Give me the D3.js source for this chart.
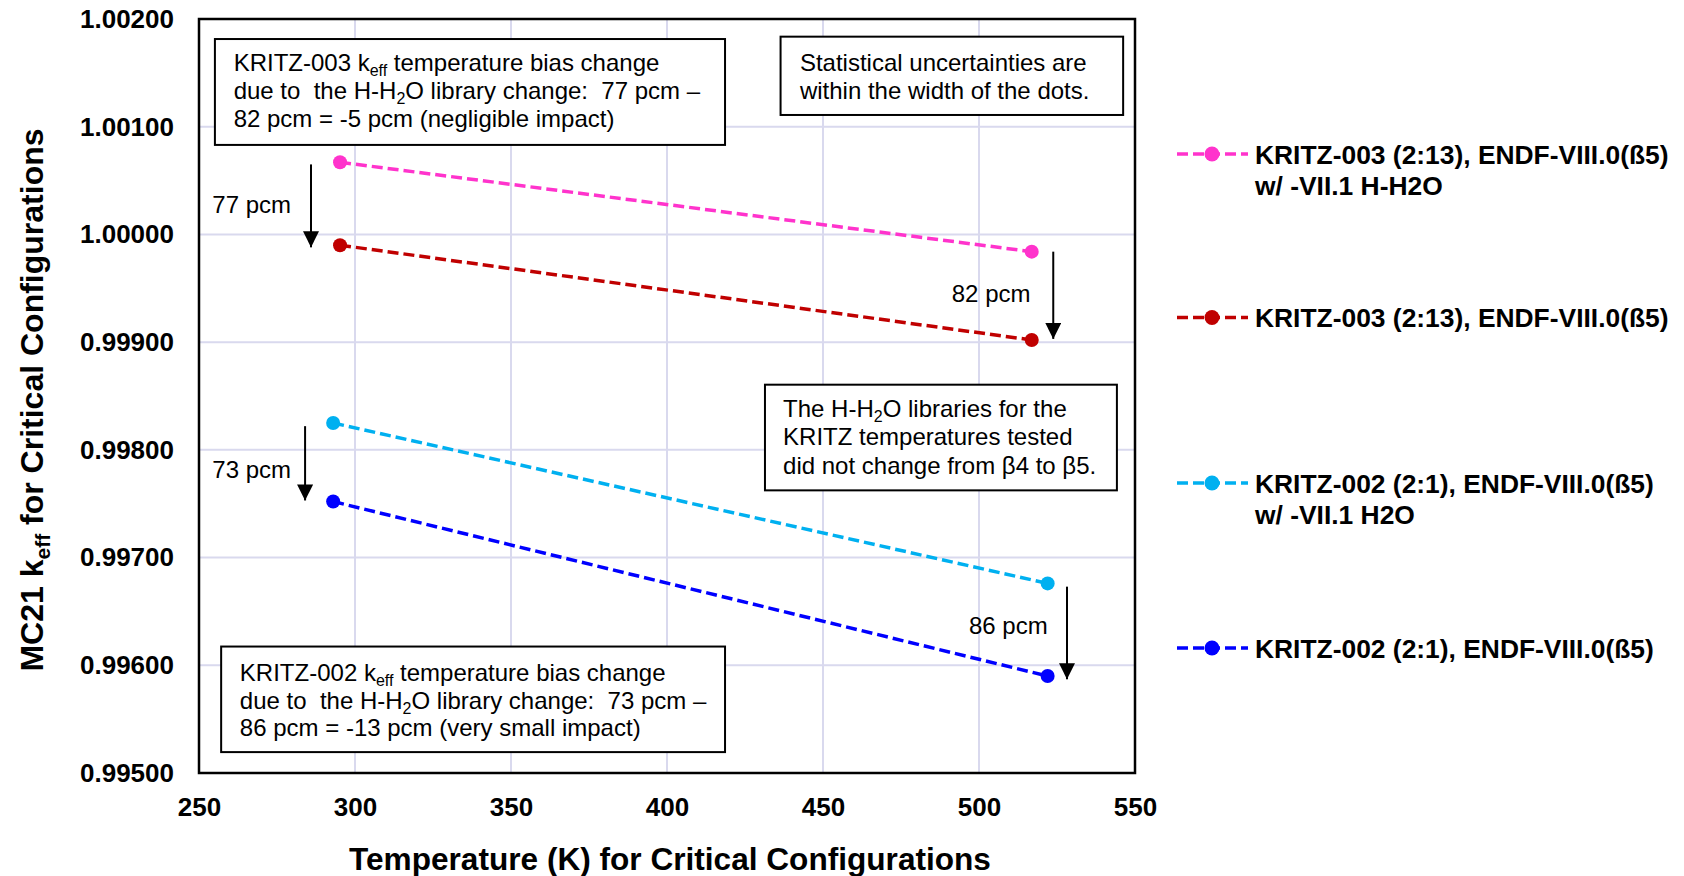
<!DOCTYPE html>
<html>
<head>
<meta charset="utf-8">
<script src="https://cdn.jsdelivr.net/npm/d3@7"></script>
<style>
  html, body { margin: 0; padding: 0; background: #fff; }
  svg { display: block; font-family: Arial, "Liberation Sans", sans-serif; }
</style>
</head>
<body>
<svg id="chart" width="1684" height="876"></svg>
<script>
// ---------------- DATA ----------------
const xTicks = [250, 300, 350, 400, 450, 500, 550];
const yTicks = [0.995, 0.996, 0.997, 0.998, 0.999, 1.000, 1.001, 1.002];

const seriesNames = [
  ["KRITZ-003 (2:13), ENDF-VIII.0(ß5)", "w/ -VII.1 H-H2O"],
  ["KRITZ-003 (2:13), ENDF-VIII.0(ß5)"],
  ["KRITZ-002 (2:1), ENDF-VIII.0(ß5)", "w/ -VII.1 H2O"],
  ["KRITZ-002 (2:1), ENDF-VIII.0(ß5)"]
];
const seriesColors = ["#FF33CC", "#C00000", "#00B0F0", "#0000FF"];

const kritz003Temps = [295.2, 516.9];
const kritz002Temps = [293.0, 522.0];
const k003VII1 = [1.00067, 0.99984];
const k003VIII = [0.99990, 0.99902];
const k002VII1 = [0.99825, 0.99676];
const k002VIII = [0.99752, 0.99590];

// arrows: [temperature, kFrom, kTo]
const arrowT = [285.9, 523.8, 284.0, 528.2];
const arrowFrom = [1.00065, 0.99984, 0.99822, 0.99673];
const arrowTo = [0.99988, 0.99903, 0.99753, 0.99587];
const arrowLabels = ["77 pcm", "82 pcm", "73 pcm", "86 pcm"];
const arrowLabelT = [279.5, 516.5, 279.5, 522.0];
const arrowLabelK = [1.00020, 0.99937, 0.99774, 0.99629];

// ---------------- LAYOUT ----------------
const svg = d3.select("#chart");
const L = 199, R = 1135, T = 19, B = 773;
const NOTE_FS = 24;

const x = d3.scaleLinear().domain([250, 550]).range([L, R]);
const y = d3.scaleLinear().domain([0.995, 1.002]).range([B, T]);

const series = [
  { name: seriesNames[0], color: seriesColors[0], t: kritz003Temps, k: k003VII1 },
  { name: seriesNames[1], color: seriesColors[1], t: kritz003Temps, k: k003VIII },
  { name: seriesNames[2], color: seriesColors[2], t: kritz002Temps, k: k002VII1 },
  { name: seriesNames[3], color: seriesColors[3], t: kritz002Temps, k: k002VIII }
];

// gridlines
const grid = svg.append("g").attr("stroke", "#D9D9EE").attr("stroke-width", 2);
grid.selectAll("line.v").data(xTicks.slice(1, -1)).join("line")
  .attr("class", "v")
  .attr("x1", d => x(d)).attr("x2", d => x(d)).attr("y1", T).attr("y2", B);
grid.selectAll("line.h").data(yTicks.slice(1, -1)).join("line")
  .attr("class", "h")
  .attr("x1", L).attr("x2", R).attr("y1", d => y(d)).attr("y2", d => y(d));

// axes (labels via d3 axes, domain hidden, border drawn as rect)
const xAxis = d3.axisBottom(x).tickValues(xTicks).tickSize(0).tickPadding(25).tickFormat(d3.format("d"));
const gx = svg.append("g").attr("transform", `translate(0,${B})`).call(xAxis);
gx.select(".domain").remove();
gx.selectAll("text").attr("font-size", 26).attr("font-weight", "bold").attr("fill", "#000")
  .attr("font-family", "Arial, 'Liberation Sans', sans-serif");

const yAxis = d3.axisLeft(y).tickValues(yTicks).tickSize(0).tickPadding(25).tickFormat(d3.format(".5f"));
const gy = svg.append("g").attr("transform", `translate(${L},0)`).call(yAxis);
gy.select(".domain").remove();
gy.selectAll("text").attr("font-size", 26).attr("font-weight", "bold").attr("fill", "#000")
  .attr("font-family", "Arial, 'Liberation Sans', sans-serif");

// plot border
svg.append("rect").attr("x", L).attr("y", T).attr("width", R - L).attr("height", B - T)
  .attr("fill", "none").attr("stroke", "#000").attr("stroke-width", 2.5);

// axis titles
svg.append("text").attr("x", (L + R) / 2 + 3).attr("y", 870).attr("text-anchor", "middle")
  .attr("font-size", 31.6).attr("font-weight", "bold").text("Temperature (K) for Critical Configurations");

const yt = svg.append("text").attr("transform", `translate(43,${(T + B) / 2 + 4}) rotate(-90)`)
  .attr("text-anchor", "middle").attr("font-size", 32).attr("font-weight", "bold");
yt.append("tspan").text("MC21 k");
yt.append("tspan").attr("font-size", 21).attr("dy", 7).text("eff");
yt.append("tspan").attr("dy", -7).text(" for Critical Configurations");

// series lines + points
const line = d3.line().x(d => x(d[0])).y(d => y(d[1]));
series.forEach(s => {
  const pts = s.t.map((t, i) => [t, s.k[i]]);
  svg.append("path").datum(pts).attr("d", line).attr("fill", "none")
    .attr("stroke", s.color).attr("stroke-width", 3.5).attr("stroke-dasharray", "11,5");
  svg.selectAll(null).data(pts).join("circle")
    .attr("cx", d => x(d[0])).attr("cy", d => y(d[1])).attr("r", 7).attr("fill", s.color);
});

// arrows
const defs = svg.append("defs");
defs.append("marker").attr("id", "ah").attr("viewBox", "0 0 16 16").attr("refX", 16).attr("refY", 8)
  .attr("markerWidth", 16).attr("markerHeight", 16).attr("markerUnits", "userSpaceOnUse").attr("orient", "auto")
  .append("path").attr("d", "M0,0 L16,8 L0,16 Z").attr("fill", "#000");

arrowT.forEach((t, i) => {
  svg.append("line").attr("x1", x(t)).attr("x2", x(t)).attr("y1", y(arrowFrom[i])).attr("y2", y(arrowTo[i]))
    .attr("stroke", "#000").attr("stroke-width", 2).attr("marker-end", "url(#ah)");
  svg.append("text").attr("x", x(arrowLabelT[i])).attr("y", y(arrowLabelK[i])).attr("text-anchor", "end")
    .attr("font-size", NOTE_FS).attr("fill", "#000").text(arrowLabels[i]);
});

// text boxes (corners in data coordinates; line baselines as offsets from box top)
const boxes = [
  { x0: 255.1, x1: 418.6, y0: 1.001814, y1: 1.000831, tx: 261.1, lines: [
      [["KRITZ-003 k", "n"], ["eff", "sub"], [" temperature bias change", "n"]],
      [["due to  the H-H", "n"], ["2", "sub"], ["O library change:  77 pcm \u2013", "n"]],
      [["82 pcm = -5 pcm (negligible impact)", "n"]]
    ], off: [31.7, 60, 88] },
  { x0: 436.4, x1: 546.2, y0: 1.001836, y1: 1.001109, tx: 442.6, lines: [
      [["Statistical uncertainties are", "n"]],
      [["within the width of the dots.", "n"]]
    ], off: [34.3, 62.3] },
  { x0: 431.4, x1: 544.2, y0: 0.998605, y1: 0.997624, tx: 437.2, lines: [
      [["The H-H", "n"], ["2", "sub"], ["O libraries for the", "n"]],
      [["KRITZ temperatures tested", "n"]],
      [["did not change from \u03B24 to \u03B25.", "n"]]
    ], off: [32.3, 60.7, 89] },
  { x0: 257.1, x1: 418.6, y0: 0.996174, y1: 0.995194, tx: 263.1, lines: [
      [["KRITZ-002 k", "n"], ["eff", "sub"], [" temperature bias change", "n"]],
      [["due to  the H-H", "n"], ["2", "sub"], ["O library change:  73 pcm \u2013", "n"]],
      [["86 pcm = -13 pcm (very small impact)", "n"]]
    ], off: [34, 62, 89.7] }
];

boxes.forEach(b => {
  svg.append("rect").attr("x", x(b.x0)).attr("y", y(b.y0))
    .attr("width", x(b.x1) - x(b.x0)).attr("height", y(b.y1) - y(b.y0))
    .attr("fill", "#fff").attr("stroke", "#000").attr("stroke-width", 2);
  b.lines.forEach((ln, li) => {
    const t = svg.append("text").attr("x", x(b.tx)).attr("y", y(b.y0) + b.off[li])
      .attr("font-size", NOTE_FS).attr("fill", "#000").attr("xml:space", "preserve")
      .style("white-space", "pre");
    let shift = 0;
    ln.forEach(([s, kind]) => {
      if (kind === "sub") {
        t.append("tspan").attr("font-size", 16).attr("dy", 5 - shift).text(s);
        shift = 5;
      } else {
        t.append("tspan").attr("dy", -shift).text(s);
        shift = 0;
      }
    });
  });
});

// legend
const legY = [154, 317.5, 483, 648];
series.forEach((s, i) => {
  const g = svg.append("g");
  g.append("line").attr("x1", 1177).attr("x2", 1248).attr("y1", legY[i]).attr("y2", legY[i])
    .attr("stroke", s.color).attr("stroke-width", 3.5).attr("stroke-dasharray", "11,5");
  g.append("circle").attr("cx", 1212).attr("cy", legY[i]).attr("r", 7.5).attr("fill", s.color);
  s.name.forEach((nm, j) => {
    g.append("text").attr("x", 1255).attr("y", legY[i] + 9.5 + j * 31)
      .attr("font-size", 26.4).attr("font-weight", "bold").attr("fill", "#000").text(nm);
  });
});
</script>
</body>
</html>
